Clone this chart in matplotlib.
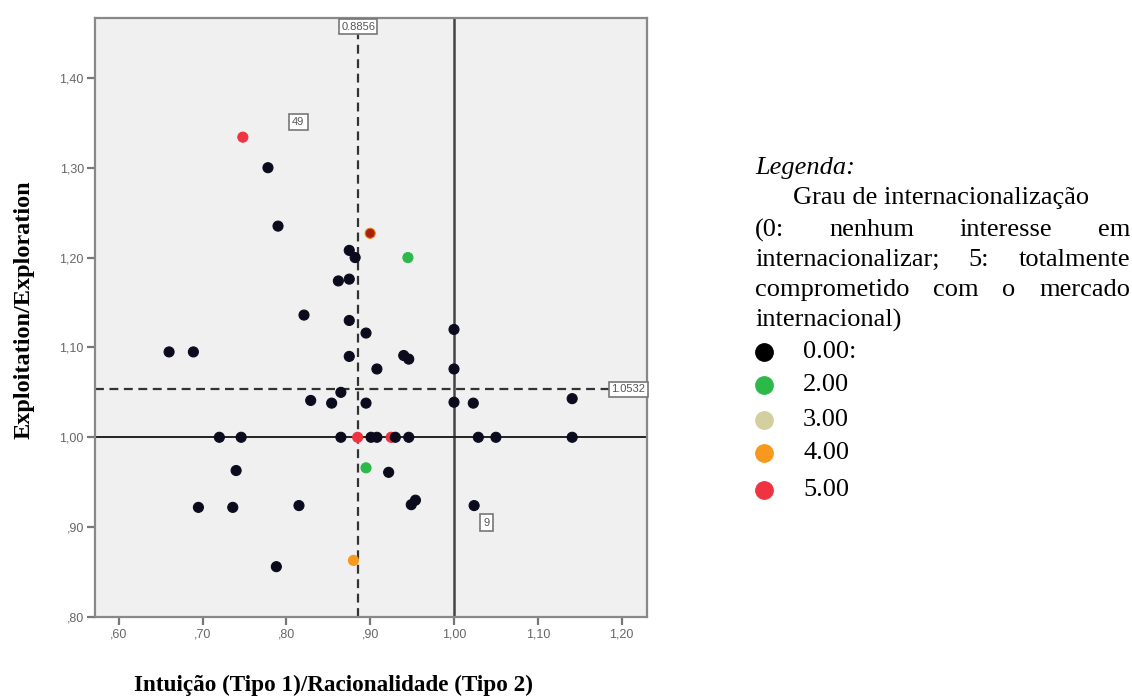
import numpy as np
import matplotlib.pyplot as plt

# ---------------------------------------------------------
# data
# ---------------------------------------------------------
x_vals = [0.748, 0.778, 0.790, 0.900, 0.945,
          0.875, 0.882, 0.862, 0.875, 0.821, 0.875, 0.895,
          0.660, 0.689, 0.875, 0.908, 0.940, 0.946, 1.000, 1.000,
          0.829, 0.854, 0.865, 0.895, 1.000, 1.023, 1.141,
          0.720, 0.746, 0.865, 0.885, 0.901, 0.908, 0.925, 0.930, 0.946,
          1.029, 1.050, 1.141,
          0.740, 0.895, 0.922, 0.695, 0.736, 0.815, 0.949, 0.954, 1.024,
          0.880, 0.788]
y_vals = [1.334, 1.300, 1.235, 1.227, 1.200,
          1.208, 1.200, 1.174, 1.176, 1.136, 1.130, 1.116,
          1.095, 1.095, 1.090, 1.076, 1.091, 1.087, 1.120, 1.076,
          1.041, 1.038, 1.050, 1.038, 1.039, 1.038, 1.043,
          1.000, 1.000, 1.000, 1.000, 1.000, 1.000, 1.000, 1.000, 1.000,
          1.000, 1.000, 1.000,
          0.963, 0.966, 0.961, 0.922, 0.922, 0.924, 0.925, 0.930, 0.924,
          0.863, 0.856]
# grau de internacionalizacao (4.5 = pontos 4 e 5 sobrepostos)
grau = [5, 0, 0, 4.5, 2,
        0, 0, 0, 0, 0, 0, 0,
        0, 0, 0, 0, 0, 0, 0, 0,
        0, 0, 0, 0, 0, 0, 0,
        0, 0, 0, 5, 0, 0, 5, 0, 0,
        0, 0, 0,
        0, 2, 0, 0, 0, 0, 0, 0, 0,
        4, 0]

ref_x = 0.8856
ref_y = 1.0532
point_labels = ["49", "9"]
point_label_xy = [(0.814, 1.351), (1.039, 0.905)]

x_ticks = [0.60, 0.70, 0.80, 0.90, 1.00, 1.10, 1.20]
x_ticklabels = [",60", ",70", ",80", ",90", "1,00", "1,10", "1,20"]
y_ticks = [0.80, 0.90, 1.00, 1.10, 1.20, 1.30, 1.40]
y_ticklabels = [",80", ",90", "1,00", "1,10", "1,20", "1,30", "1,40"]

legend_levels = ["0.00:", "2.00", "3.00", "4.00", "5.00"]
legend_colors = ["#000000", "#2db84a", "#d4cf9e", "#f7991e", "#ef3340"]

point_colors = {0: "#0b0b1e", 2: "#2db84a", 4: "#f7991e", 5: "#ef3340", 4.5: "#a8200c"}
point_edges = {0: "#0b0b1e", 2: "#2db84a", 4: "#f7991e", 5: "#ef3340", 4.5: "#e07b20"}

# ---------------------------------------------------------
# figure
# ---------------------------------------------------------
W, H = 1132, 696
fig = plt.figure(figsize=(W / 100, H / 100), dpi=100)
ax = fig.add_axes([95 / W, 1 - 617 / H, 552 / W, 599 / H])
ax.set_facecolor("#f0f0f0")

ax.set_xlim(0.5716, 1.2303)
ax.set_ylim(0.80, 1.4666)

# linhas de referencia
ax.axvline(ref_x, color="#333333", lw=1.6, ls=(0, (4, 2.5)), zorder=2)
ax.axhline(ref_y, color="#333333", lw=1.6, ls=(0, (4, 2.5)), zorder=2)
ax.axvline(1.0, color="#444444", lw=1.8, zorder=2)
ax.axhline(1.0, color="#222222", lw=1.4, zorder=2)

cols = [point_colors[g] for g in grau]
edges = [point_edges[g] for g in grau]
ax.scatter(x_vals, y_vals, s=52, c=cols, edgecolors=edges, linewidths=0.8, zorder=3)

box = dict(boxstyle="square,pad=0.2", fc="white", ec="#777777", lw=1.2)
ax.text(ref_x, 1.4666 - 0.004, f"{ref_x:.4f}", ha="center", va="top", fontsize=8,
        family="Liberation Sans", color="#555555", bbox=box, zorder=4)
ax.text(1.2303 - 0.002, ref_y, f"{ref_y:.4f}", ha="right", va="center", fontsize=8,
        family="Liberation Sans", color="#555555", bbox=box, zorder=4)
for lab, (px, py) in zip(point_labels, point_label_xy):
    ax.text(px, py, lab, ha="center", va="center", fontsize=8,
            family="Liberation Sans", color="#555555",
            bbox=dict(boxstyle="square,pad=0.3", fc="white", ec="#777777", lw=1.2),
            zorder=4)

ax.set_xticks(x_ticks)
ax.set_xticklabels(x_ticklabels)
ax.set_yticks(y_ticks)
ax.set_yticklabels(y_ticklabels)
ax.tick_params(length=6, width=1.6, color="#777777", labelcolor="#666666",
               labelsize=9, pad=2)
for lab in ax.get_xticklabels() + ax.get_yticklabels():
    lab.set_family("Liberation Sans")
for sp in ax.spines.values():
    sp.set_color("#888888")
    sp.set_linewidth(1.6)

fig.text(24 / W, 1 - 310 / H, "Exploitation/Exploration", rotation=90,
         ha="center", va="center", family="Liberation Serif",
         fontweight="bold", fontsize=17.5)
fig.text(333 / W, 1 - 685 / H, "Intuição (Tipo 1)/Racionalidade (Tipo 2)",
         ha="center", va="center", family="Liberation Serif",
         fontweight="bold", fontsize=16.7)

# ---------------------------------------------------------
# legenda (texto justificado)
# ---------------------------------------------------------
renderer = fig.canvas.get_renderer()
fs = 19
x0, x1 = 755, 1130


def put(text, x, y, **kw):
    return fig.text(x / W, 1 - y / H, text, ha="left", va="center",
                    family="Liberation Serif", fontsize=fs, **kw)


def justify(line, y):
    words = line.split()
    items = [put(w, x0, y) for w in words]
    widths = [t.get_window_extent(renderer).width for t in items]
    gap = (x1 - x0 - sum(widths)) / (len(words) - 1)
    xx = x0
    for t, w in zip(items, widths):
        t.set_x(xx / W)
        xx += w + gap


put("Legenda:", x0, 168, style="italic")
put("Grau de internacionalização", 793, 198)
justify("(0: nenhum interesse em", 230)
justify("internacionalizar; 5: totalmente", 260)
justify("comprometido com o mercado", 290)
put("internacional)", x0, 320)

leg_y = [352, 385, 420, 453, 490]
for lab, c, yy in zip(legend_levels, legend_colors, leg_y):
    fig.add_artist(plt.Line2D([764 / W], [1 - yy / H], marker="o", ms=12.5,
                              color=c, mec=c, transform=fig.transFigure))
    put(lab, 803, yy)

fig.savefig("out.png", dpi=100)
